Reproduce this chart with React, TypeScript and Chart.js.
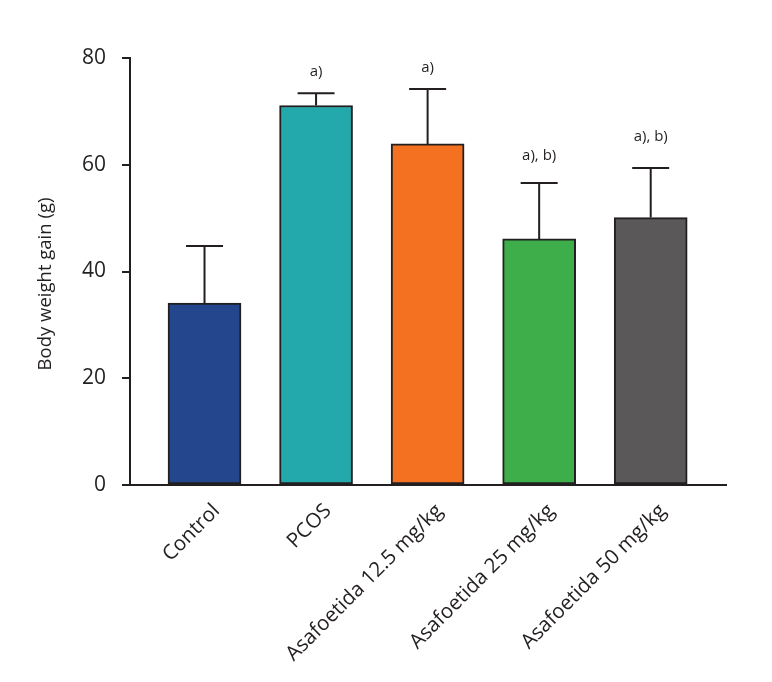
import React, { useEffect, useRef } from 'react';
import { Chart, registerables } from 'chart.js';

Chart.register(...registerables);

const categories = ['Control', 'PCOS', 'Asafoetida 12.5 mg/kg', 'Asafoetida 25 mg/kg', 'Asafoetida 50 mg/kg'];
const means = [34.1, 71.1, 63.9, 46.1, 50.1];
const errorTops = [44.8, 73.4, 74.2, 56.6, 59.4];
const significance = ['', 'a)', 'a)', 'a), b)', 'a), b)'];
const yTicks = [0, 20, 40, 60, 80];
const yTitle = 'Body weight gain (g)';

const barColors = ['#23468c', '#23a8ab', '#f37121', '#3eae4a', '#5a5859'];
const annotationGap = [0, 21, 21, 27, 31];
const INK = '#231f20';
const FONT = '"Open Sans", sans-serif';

const overlayPlugin = {
  id: 'overlay',
  afterDatasetsDraw(chart: any) {
    const ctx = chart.ctx;
    const yScale = chart.scales.y;
    const meta = chart.getDatasetMeta(0);
    ctx.save();
    ctx.strokeStyle = INK;
    ctx.lineWidth = 2;
    ctx.fillStyle = INK;
    meta.data.forEach((bar: any, i: number) => {
      const x = bar.x;
      const yTop = yScale.getPixelForValue(means[i]);
      const yCap = yScale.getPixelForValue(errorTops[i]);
      ctx.beginPath();
      ctx.moveTo(x, yTop);
      ctx.lineTo(x, yCap);
      ctx.moveTo(x - 18.5, yCap);
      ctx.lineTo(x + 18.5, yCap);
      ctx.stroke();
      if (significance[i]) {
        ctx.font = `15px ${FONT}`;
        ctx.textAlign = 'center';
        ctx.textBaseline = 'middle';
        ctx.fillText(significance[i], x, yCap - annotationGap[i]);
      }
    });
    // y-axis title
    ctx.translate(46, 284);
    ctx.rotate(-Math.PI / 2);
    ctx.font = `18.5px ${FONT}`;
    ctx.textAlign = 'center';
    ctx.textBaseline = 'middle';
    ctx.fillText(yTitle, 0, 0);
    ctx.restore();
  },
};

export default function App() {
  const ref = useRef<HTMLCanvasElement>(null);
  useEffect(() => {
    if (!ref.current) return;
    const chart = new Chart(ref.current, {
      type: 'bar',
      data: {
        datasets: [
          {
            data: means.map((v, i) => ({ x: i, y: v })),
            backgroundColor: barColors,
            borderColor: INK,
            borderWidth: 2,
            borderSkipped: false,
            barThickness: 73,
          },
        ],
      },
      options: {
        animation: false,
        responsive: false,
        layout: { padding: { top: 58, right: 46, bottom: 0, left: 0 } },
        plugins: { legend: { display: false }, tooltip: { enabled: false } },
        scales: {
          x: {
            type: 'linear',
            offset: false,
            min: -0.668,
            max: 4.675,
            afterBuildTicks: (s: any) => {
              s.ticks = categories.map((_, i) => ({ value: i }));
            },
            afterFit: (s: any) => {
              s.height = 197;
            },
            grid: { display: false, drawTicks: false },
            border: { display: true, color: INK, width: 2 },
            ticks: {
              autoSkip: false,
              minRotation: 45,
              maxRotation: 45,
              padding: 14,
              labelOffset: 12,
              color: INK,
              font: { family: FONT, size: 20.5 },
              callback: (v: any) => categories[v] ?? '',
            },
          },
          y: {
            min: 0,
            max: 80,
            afterBuildTicks: (s: any) => {
              s.ticks = yTicks.map((v) => ({ value: v }));
            },
            afterFit: (s: any) => {
              s.width = 130;
            },
            grid: { display: true, drawOnChartArea: false, drawTicks: true, tickLength: 8, color: INK, lineWidth: 2 },
            border: { display: true, color: INK, width: 2 },
            ticks: {
              padding: 16,
              color: INK,
              font: { family: FONT, size: 21 },
            },
          },
        },
      },
      plugins: [overlayPlugin],
    } as any);
    return () => chart.destroy();
  }, []);
  return (
    <div style={{ position: 'fixed', left: 0, top: 0, width: 772, height: 682, background: '#fff' }}>
      <canvas ref={ref} width={772} height={682} style={{ display: 'block' }} />
    </div>
  );
}
